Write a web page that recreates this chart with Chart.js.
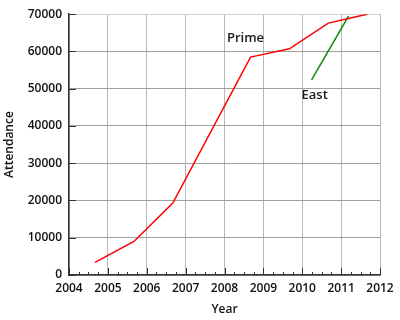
<!DOCTYPE html>
<html>
<head>
<meta charset="utf-8">
<script src="https://cdn.jsdelivr.net/npm/chart.js@4/dist/chart.umd.min.js"></script>
<style>
  html, body { margin: 0; padding: 0; background: #fff; }
  #wrap { width: 400px; height: 320px; position: relative; }
</style>
</head>
<body>
<div id="wrap"><canvas id="chart"></canvas></div>
<script>
// values
const primeYears = [2004.67, 2005.67, 2006.67, 2008.67, 2009.67, 2010.67, 2011.67];
const primeAttendance = [3400, 9000, 19300, 58500, 60700, 67600, 70000];
const eastYears = [2010.24, 2011.19];
const eastAttendance = [52400, 69500];
const seriesLabels = [
    { text: 'Prime', x: 2008.54, y: 63400 },
    { text: 'East', x: 2010.32, y: 48300 }
];

const FONT = "'Open Sans', sans-serif";

const toPoints = (xs, ys) => xs.map((x, i) => ({ x, y: ys[i] }));

// inward ticks + series name labels
const extras = {
    id: 'extras',
    afterDatasetsDraw(chart) {
        const ctx = chart.ctx;
        const xs = chart.scales.x;
        const ys = chart.scales.y;
        const area = chart.chartArea;
        ctx.save();
        ctx.strokeStyle = '#333';
        ctx.lineWidth = 1;
        ctx.beginPath();
        for (let v = 0; v <= 70000; v += 10000) {
            const py = Math.round(ys.getPixelForValue(v)) + 0.5;
            ctx.moveTo(area.left, py);
            ctx.lineTo(area.left + 7, py);
        }
        for (let q = 2004; q <= 2012; q += 0.25) {
            const px = Math.round(xs.getPixelForValue(q)) + 0.5;
            const len = Number.isInteger(q) ? 7 : 3;
            ctx.moveTo(px, area.bottom);
            ctx.lineTo(px, area.bottom - len);
        }
        ctx.stroke();

        ctx.fillStyle = '#1a1a1a';
        ctx.font = '600 13px ' + FONT;
        ctx.textAlign = 'center';
        ctx.textBaseline = 'middle';
        seriesLabels.forEach(l => {
            ctx.fillText(l.text, xs.getPixelForValue(l.x), ys.getPixelForValue(l.y));
        });
        ctx.restore();
    }
};

new Chart(document.getElementById('chart'), {
    type: 'scatter',
    data: {
        datasets: [{
            label: 'Prime',
            data: toPoints(primeYears, primeAttendance),
            showLine: true,
            borderColor: '#ff0000',
            borderWidth: 1.5,
            pointRadius: 0,
            tension: 0
        }, {
            label: 'East',
            data: toPoints(eastYears, eastAttendance),
            showLine: true,
            borderColor: '#0a8a0a',
            borderWidth: 1.5,
            pointRadius: 0,
            tension: 0
        }]
    },
    options: {
        responsive: true,
        maintainAspectRatio: false,
        animation: false,
        layout: { padding: { top: 13, right: 20, left: 0, bottom: 0 } },
        plugins: {
            legend: { display: false },
            tooltip: { enabled: false }
        },
        scales: {
            x: {
                type: 'linear',
                min: 2004,
                max: 2012,
                afterFit: s => { s.height = 45; },
                ticks: {
                    stepSize: 1,
                    color: '#111',
                    padding: 6,
                    font: { family: FONT, size: 12, weight: '600' },
                    callback: v => String(v)
                },
                grid: {
                    color: '#b8b8b8',
                    drawTicks: false
                },
                border: { color: '#333', width: 1.5 },
                title: {
                    display: true,
                    text: 'Year',
                    color: '#111',
                    font: { family: FONT, size: 12, weight: '600' },
                    padding: { top: 0, bottom: 3 }
                }
            },
            y: {
                min: 0,
                max: 70000,
                afterFit: s => { s.width = 69; },
                ticks: {
                    stepSize: 10000,
                    color: '#111',
                    padding: 7,
                    font: { family: FONT, size: 12, weight: '600' },
                    callback: v => String(v)
                },
                grid: {
                    color: ctx => ctx.tick && ctx.tick.value === 70000 ? '#d0d0d0' : '#a0a0a0',
                    drawTicks: false
                },
                border: { color: '#333', width: 1.5 },
                title: {
                    display: true,
                    text: 'Attendance',
                    color: '#111',
                    font: { family: FONT, size: 12, weight: '600' },
                    padding: { top: 2, bottom: 0 }
                }
            }
        }
    },
    plugins: [extras]
});
</script>
</body>
</html>
